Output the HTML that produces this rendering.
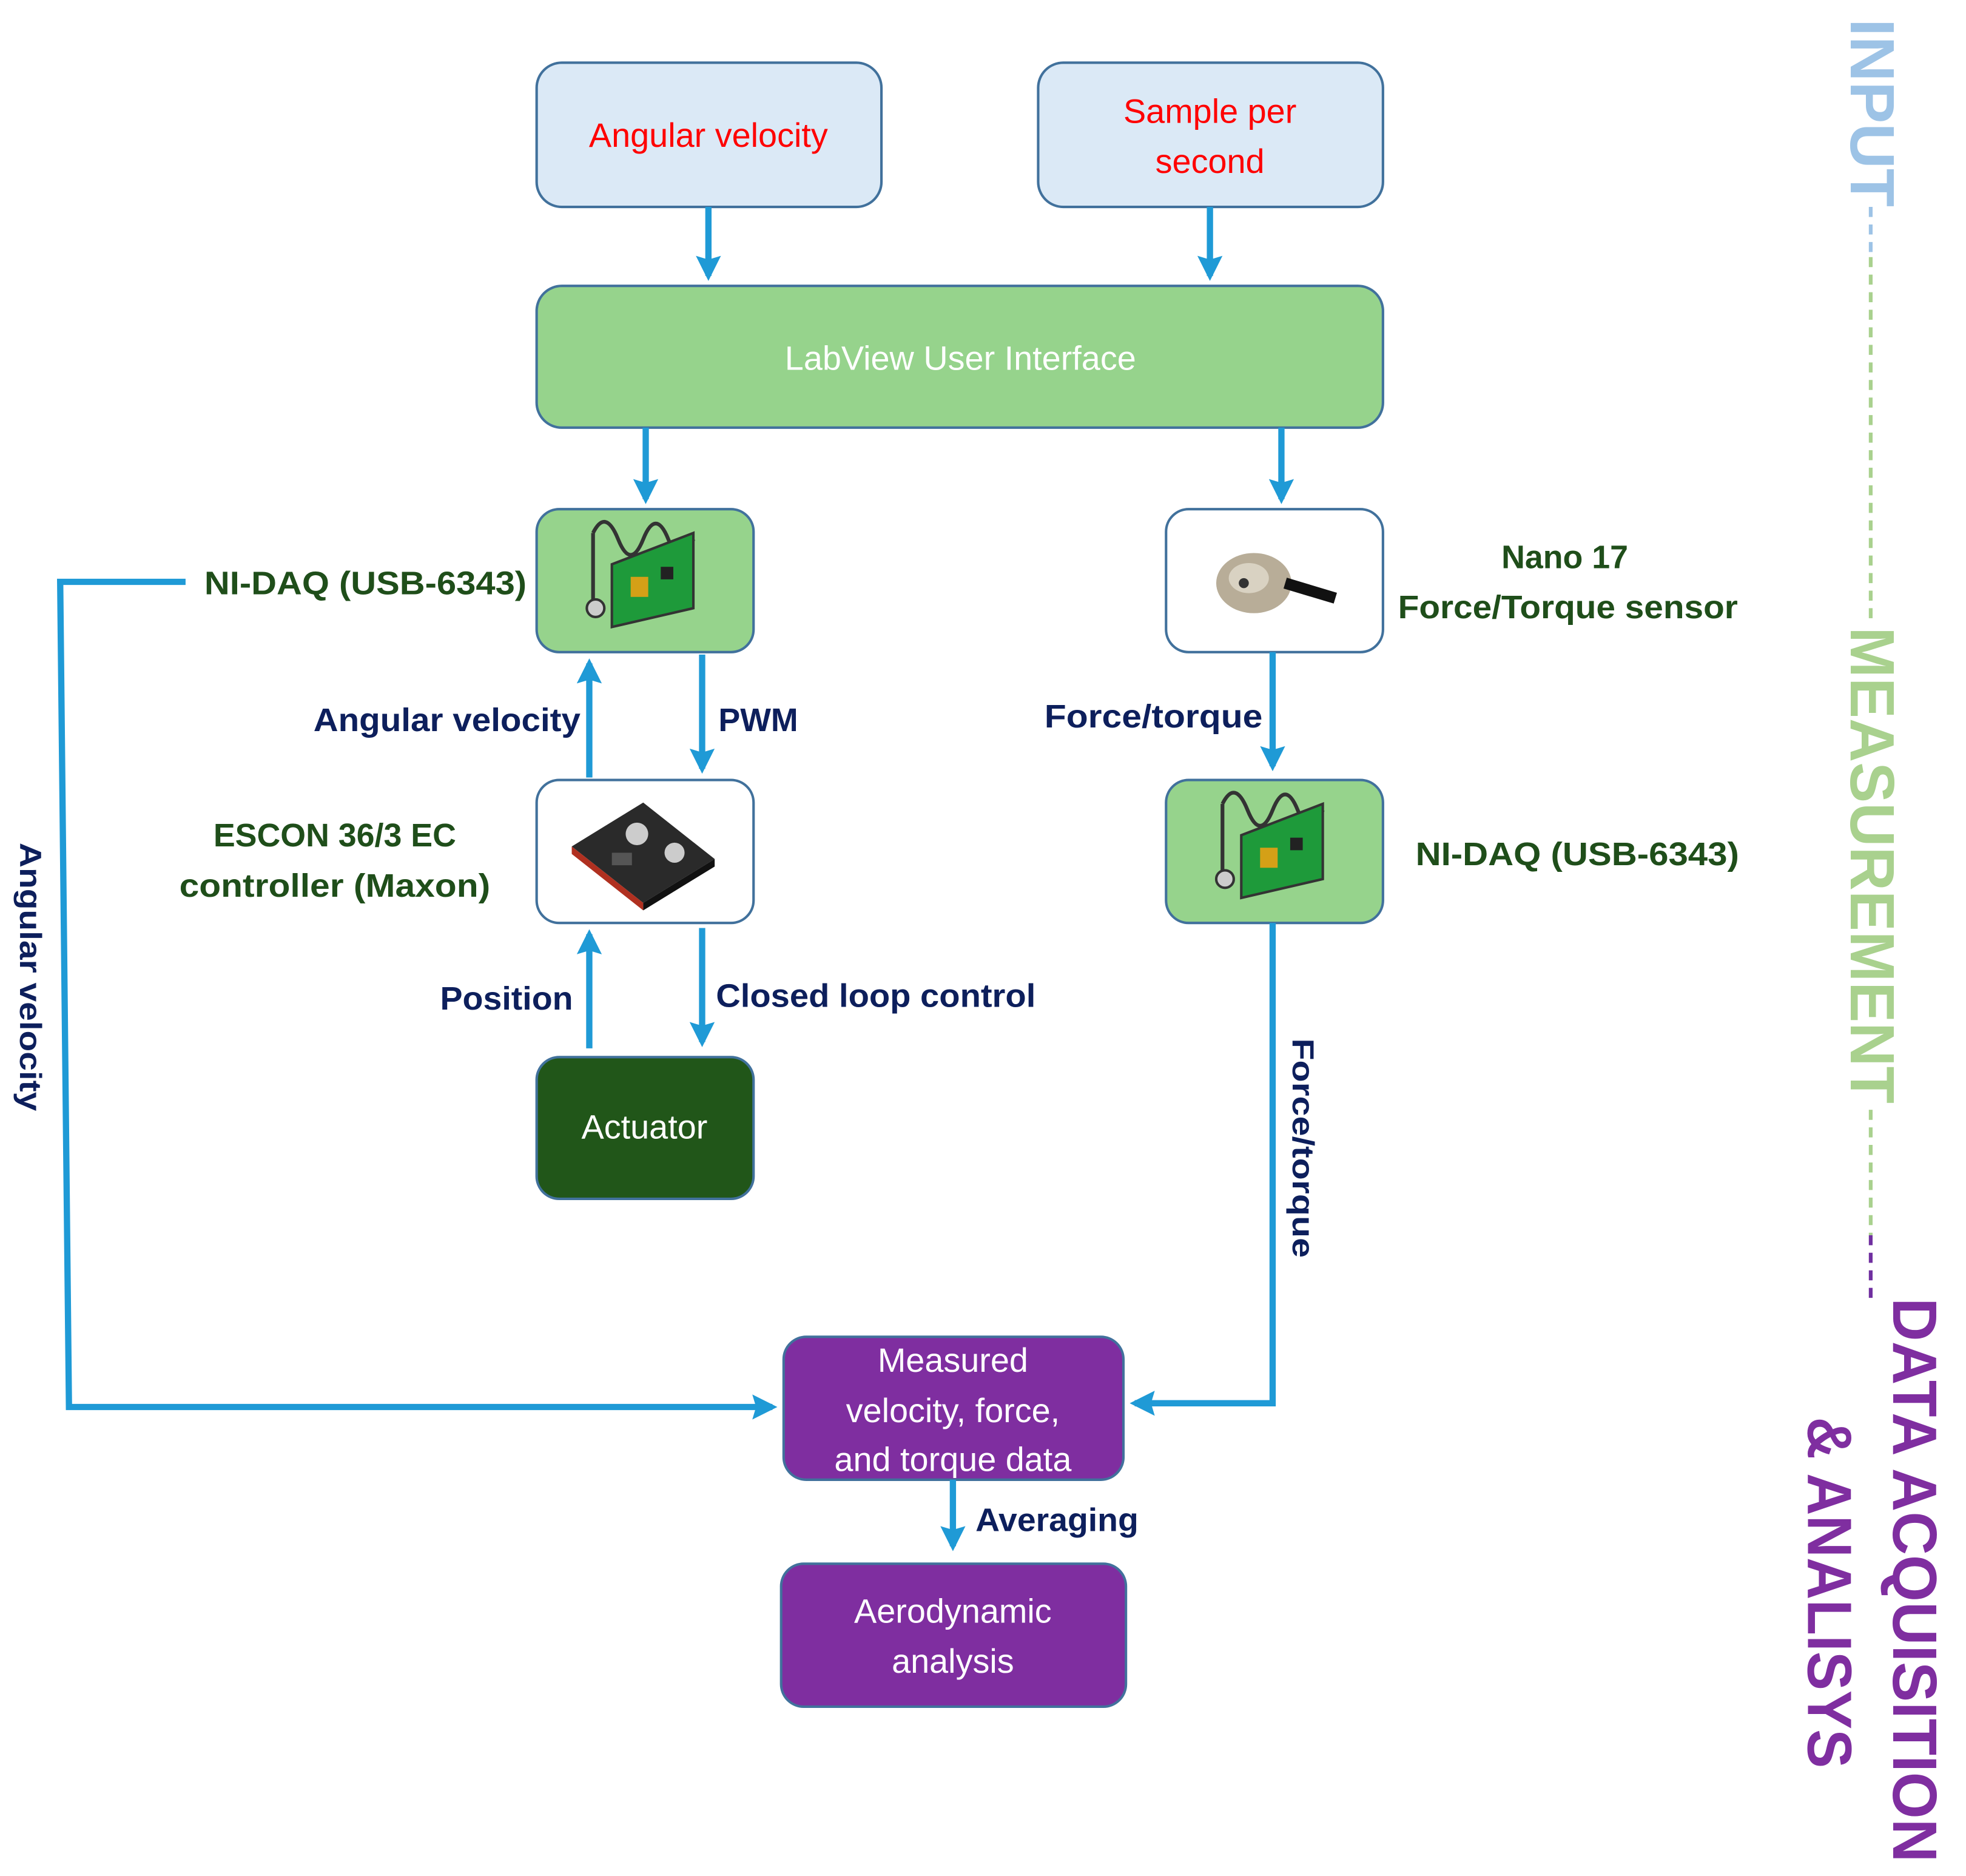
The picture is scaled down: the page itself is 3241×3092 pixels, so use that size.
<!DOCTYPE html>
<html><head><meta charset="utf-8"><style>
html,body{margin:0;padding:0;background:#fff;}
svg{display:block;}
text{font-family:"Liberation Sans",sans-serif;}
</style></head><body>
<svg width="3241" height="3092" viewBox="0 0 1568 1496" preserveAspectRatio="none" xmlns="http://www.w3.org/2000/svg">
<defs>
<marker id="ah" markerWidth="4" markerHeight="4" refX="3.2" refY="2" orient="auto" markerUnits="strokeWidth">
<path d="M0,0 L4,2 L0,4 L0.6,2 Z" fill="#1f9ad6"/>
</marker>
<g id="daq">
<path d="M-40,-35 L-40,20 M-40,-35 Q-30,-55 -20,-30 Q-10,-5 0,-30 Q10,-55 20,-30 Q30,-5 40,-30" fill="none" stroke="#333" stroke-width="3"/>
<polygon points="-25,-10 40,-35 40,25 -25,40" fill="#1e9a3a" stroke="#333" stroke-width="2"/>
<rect x="-10" y="0" width="14" height="16" fill="#d4a017"/>
<rect x="14" y="-8" width="10" height="10" fill="#222"/>
<circle cx="-38" cy="25" r="7" fill="#ccc" stroke="#333" stroke-width="2"/>
</g>
</defs>

<g stroke="#41719c" stroke-width="2">
<rect x="428" y="50" width="275" height="115" rx="20" fill="#dbe9f6"/>
<rect x="828" y="50" width="275" height="115" rx="20" fill="#dbe9f6"/>
<rect x="428" y="228" width="675" height="113" rx="20" fill="#96d38c"/>
<rect x="428" y="406" width="173" height="114" rx="18" fill="#96d38c"/>
<rect x="930" y="406" width="173" height="114" rx="18" fill="#fff"/>
<rect x="428" y="622" width="173" height="114" rx="18" fill="#fff"/>
<rect x="930" y="622" width="173" height="114" rx="18" fill="#96d38c"/>
<rect x="428" y="843" width="173" height="113" rx="18" fill="#215619"/>
<rect x="625" y="1066" width="271" height="114" rx="18" fill="#7f2ea0"/>
<rect x="623" y="1247" width="275" height="114" rx="18" fill="#7f2ea0"/>
</g>

<use href="#daq" x="513" y="460"/>
<use href="#daq" x="1015" y="676"/>
<g transform="translate(1010,465)">
<ellipse cx="-10" cy="0" rx="30" ry="24" fill="#b8ad98"/>
<ellipse cx="-14" cy="-4" rx="16" ry="12" fill="#d9d2c2"/>
<circle cx="-18" cy="0" r="4" fill="#333"/>
<path d="M15,0 L55,12" stroke="#111" stroke-width="9"/>
</g>
<g transform="translate(513,680)">
<polygon points="-57,-5 0,-40 57,5 0,40" fill="#2a2a2a"/>
<polygon points="-57,-5 0,40 0,46 -57,1" fill="#b03020"/>
<polygon points="0,40 57,5 57,11 0,46" fill="#111"/>
<circle cx="-5" cy="-15" r="9" fill="#ccc"/>
<circle cx="25" cy="0" r="8" fill="#ccc"/>
<rect x="-25" y="0" width="16" height="10" fill="#555"/>
</g>

<g fill="none" stroke="#1f9ad6" stroke-width="5" marker-end="url(#ah)">
<line x1="565" y1="165" x2="565" y2="220"/>
<line x1="965" y1="165" x2="965" y2="220"/>
<line x1="515" y1="341" x2="515" y2="398"/>
<line x1="1022" y1="341" x2="1022" y2="398"/>
<line x1="470" y1="620" x2="470" y2="529"/>
<line x1="560" y1="522" x2="560" y2="613"/>
<line x1="470" y1="836" x2="470" y2="745"/>
<line x1="560" y1="740" x2="560" y2="831"/>
<line x1="1015" y1="520" x2="1015" y2="611"/>
<polyline points="1015,736 1015,1119 905,1119"/>
<polyline points="148,464 48,464 55,1122 616,1122"/>
<line x1="760" y1="1180" x2="760" y2="1233"/>
</g>

<g font-size="27" text-anchor="middle">
<text x="565" y="117" fill="#ff0000">Angular velocity</text>
<text x="965" y="98" fill="#ff0000">Sample per</text>
<text x="965" y="138" fill="#ff0000">second</text>
<text x="766" y="295" fill="#fff">LabView User Interface</text>
<text x="514" y="908" fill="#fff">Actuator</text>
<text x="760" y="1094" fill="#fff">Measured</text>
<text x="760" y="1134" fill="#fff">velocity, force,</text>
<text x="760" y="1173" fill="#fff">and torque data</text>
<text x="760" y="1294" fill="#fff">Aerodynamic</text>
<text x="760" y="1334" fill="#fff">analysis</text>
</g>

<g font-size="26" font-weight="bold">
<text x="163" y="474" fill="#1f4e1a" textLength="257" lengthAdjust="spacingAndGlyphs">NI-DAQ (USB-6343)</text>
<text x="1129" y="690" fill="#1f4e1a" textLength="258" lengthAdjust="spacingAndGlyphs">NI-DAQ (USB-6343)</text>
<text x="1248" y="453" fill="#1f4e1a" text-anchor="middle">Nano 17</text>
<text x="1115" y="493" fill="#1f4e1a" textLength="271" lengthAdjust="spacingAndGlyphs">Force/Torque sensor</text>
<text x="267" y="675" fill="#1f4e1a" text-anchor="middle">ESCON 36/3 EC</text>
<text x="143" y="715" fill="#1f4e1a" textLength="248" lengthAdjust="spacingAndGlyphs">controller (Maxon)</text>
<text x="250" y="583" fill="#0d1f5c" textLength="213" lengthAdjust="spacingAndGlyphs">Angular velocity</text>
<text x="573" y="583" fill="#0d1f5c">PWM</text>
<text x="833" y="580" fill="#0d1f5c" textLength="174" lengthAdjust="spacingAndGlyphs">Force/torque</text>
<text x="351" y="805" fill="#0d1f5c" textLength="106" lengthAdjust="spacingAndGlyphs">Position</text>
<text x="571" y="803" fill="#0d1f5c" textLength="255" lengthAdjust="spacingAndGlyphs">Closed loop control</text>
<text x="778" y="1221" fill="#0d1f5c" textLength="130" lengthAdjust="spacingAndGlyphs">Averaging</text>
<text transform="translate(16,672) rotate(90)" fill="#0d1f5c" font-size="24" textLength="214" lengthAdjust="spacingAndGlyphs">Angular velocity</text>
<text transform="translate(1031,828) rotate(90)" fill="#0d1f5c" font-size="24" textLength="175" lengthAdjust="spacingAndGlyphs">Force/torque</text>
</g>

<g font-size="50" font-weight="bold">
<text transform="translate(1476,15) rotate(90)" fill="#9dc3e6" textLength="150" lengthAdjust="spacingAndGlyphs">INPUT</text>
<line x1="1492" y1="165" x2="1492" y2="205" stroke="#9dc3e6" stroke-width="3" stroke-dasharray="8,6"/>
<line x1="1492" y1="205" x2="1492" y2="495" stroke="#a9d18e" stroke-width="3" stroke-dasharray="8,6"/>
<text transform="translate(1476,500) rotate(90)" fill="#a9d18e" textLength="380" lengthAdjust="spacingAndGlyphs">MEASUREMENT</text>
<line x1="1492" y1="885" x2="1492" y2="985" stroke="#a9d18e" stroke-width="3" stroke-dasharray="8,6"/>
<line x1="1492" y1="985" x2="1492" y2="1035" stroke="#7030a0" stroke-width="3" stroke-dasharray="8,6"/>
<text transform="translate(1510,1035) rotate(90)" fill="#7f2ea0" textLength="450" lengthAdjust="spacingAndGlyphs">DATA ACQUISITION</text>
<text transform="translate(1442,1130) rotate(90)" fill="#7f2ea0" textLength="280" lengthAdjust="spacingAndGlyphs">&amp; ANALISYS</text>
</g>
</svg>
</body></html>
